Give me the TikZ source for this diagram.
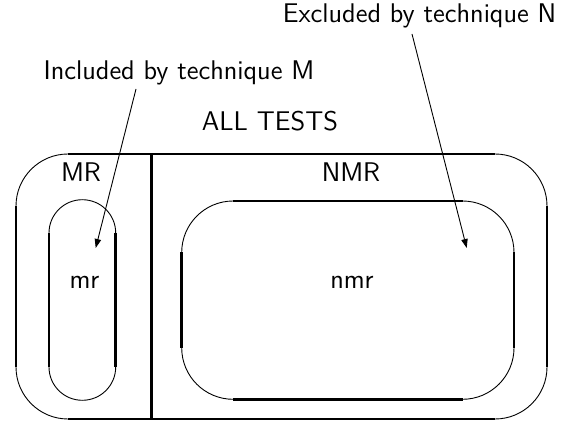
\documentclass[tikz,border=0pt]{standalone}
\usepackage{tikz}
\usetikzlibrary{arrows.meta}

\begin{document}
\begin{tikzpicture}[x=0.5pt,y=-0.5pt,
                    edge/.style={line width=1.45pt},
                    curveline/.style={line width=0.45pt},
                    lbl/.style={font=\fontsize{13.5}{16}\selectfont\sffamily},
                    pointer/.style={line width=0.45pt,-{Triangle[length=4.5pt,width=3.2pt]}}]
  \useasboundingbox (0,0) rectangle (566,421);

  % Outer set: all tests
  \begin{scope}
    \draw[edge] (68,154) -- (495,154);
    \draw[edge] (68,419) -- (495,419);
    \draw[edge] (16,206) -- (16,367);
    \draw[edge] (547,206) -- (547,367);
    \draw[edge] (151.5,154) -- (151.5,419);
    \draw[curveline,rounded corners=26pt] (16,206) |- (68,154);
    \draw[curveline,rounded corners=26pt] (495,154) -| (547,206);
    \draw[curveline,rounded corners=26pt] (547,367) |- (495,419);
    \draw[curveline,rounded corners=26pt] (68,419) -| (16,367);
  \end{scope}

  % Inner set mr
  \begin{scope}
    \draw[edge] (49,233) -- (49,367);
    \draw[edge] (115.7,233) -- (115.7,367);
    \draw[curveline] (49,233) .. controls (49,214.6) and (63.9,199.7) .. (82.35,199.7)
                              .. controls (100.8,199.7) and (115.7,214.6) .. (115.7,233);
    \draw[curveline] (49,367) .. controls (49,385.4) and (63.9,400.3) .. (82.35,400.3)
                              .. controls (100.8,400.3) and (115.7,385.4) .. (115.7,367);
  \end{scope}

  % Inner set nmr
  \begin{scope}
    \draw[edge] (233,201) -- (462.5,201);
    \draw[edge] (233,399.3) -- (462.5,399.3);
    \draw[edge] (181.7,252.5) -- (181.7,348);
    \draw[edge] (514,252.5) -- (514,348);
    \draw[curveline,rounded corners=25.75pt] (181.7,252.5) |- (233,201);
    \draw[curveline,rounded corners=25.75pt] (462.5,201) -| (514,252.5);
    \draw[curveline,rounded corners=25.75pt] (514,348) |- (462.5,399.3);
    \draw[curveline,rounded corners=25.75pt] (233,399.3) -| (181.7,348);
  \end{scope}

  % Labels
  \node[lbl] (alltests) at (270,121) {ALL TESTS};
  \node[lbl] (mrlbl) at (81,172) {MR};
  \node[lbl] (nmrlbl) at (351,172) {NMR};
  \node[lbl] (mrin) at (84.5,282) {mr};
  \node[lbl] (nmrin) at (352,282) {nmr};
  \node[lbl] (incl) at (179,73) {Included by technique M};
  \node[lbl] (excl) at (419.5,16) {Excluded by technique N};

  % Pointers
  \coordinate (inclfoot) at (136,89);
  \coordinate (incltip) at (95.7,248);
  \coordinate (exclfoot) at (412,34);
  \coordinate (excltip) at (466.7,248);
  \draw[pointer] (inclfoot) -- (incltip);
  \draw[pointer] (exclfoot) -- (excltip);
\end{tikzpicture}
\end{document}
